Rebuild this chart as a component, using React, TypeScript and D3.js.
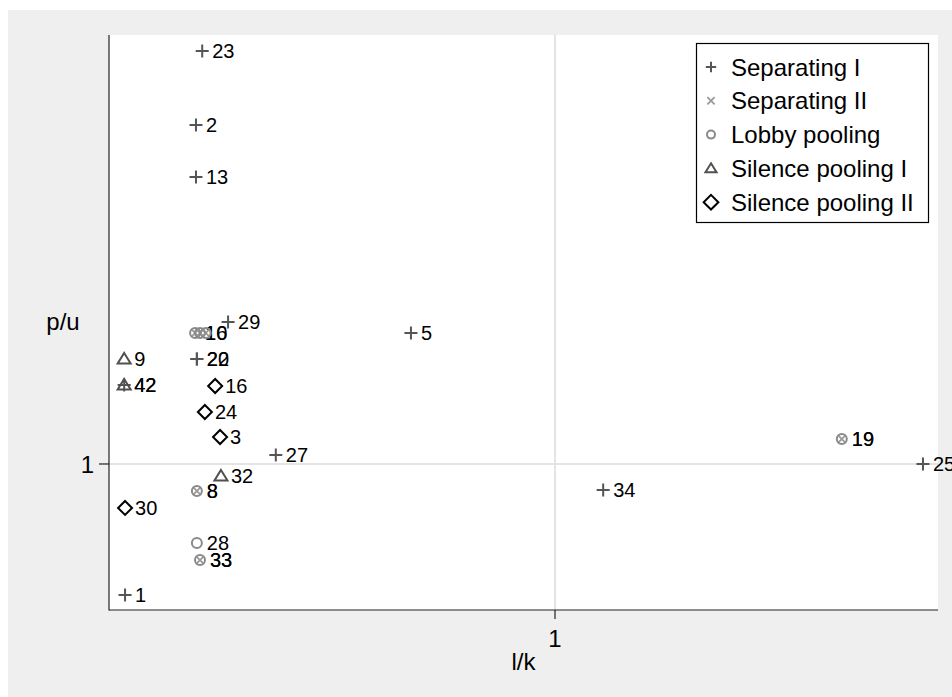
import React from "react";
import * as d3 from "d3";

// ---- data (l/k on x, p/u on y) ----
const sepIX = [0.209, 0.195, 0.195, 0.267, 0.677, 0.197, 0.197, 0.034, 0.374, 1.825, 1.108, 0.036];
const sepIY = [3.829, 3.322, 2.966, 1.973, 1.897, 1.719, 1.719, 1.541, 1.062, 1.0, 0.822, 0.103];
const sepILabels = ["23", "2", "13", "29", "5", "20", "22", "42", "27", "25", "34", "1"];

const sepIIX = [0.193, 0.204, 0.217, 1.643, 0.197, 0.204];
const sepIIY = [1.897, 1.897, 1.897, 1.171, 0.815, 0.342];
const sepIILabels = ["10", "", "", "19", "8", "33"];

const lobbyX = [0.193, 0.204, 0.217, 1.643, 0.197, 0.197, 0.204];
const lobbyY = [1.897, 1.897, 1.897, 1.171, 0.815, 0.459, 0.342];
const lobbyLabels = ["16", "", "", "19", "8", "28", "33"];

const silIX = [0.034, 0.034, 0.251];
const silIY = [1.719, 1.541, 0.918];
const silILabels = ["9", "42", "32"];

const silIIX = [0.238, 0.215, 0.249, 0.036];
const silIIY = [1.534, 1.356, 1.185, 0.699];
const silIILabels = ["16", "24", "3", "30"];

const legendLabels = ["Separating I", "Separating II", "Lobby pooling", "Silence pooling I", "Silence pooling II"];
const xTicks = [1];
const yTicks = [1];
const xTitle = "l/k";
const yTitle = "p/u";

const FONT = "'Liberation Sans', Arial, sans-serif";

type Kind = "plus" | "cross" | "circle" | "tri" | "diamond";

function Marker({ kind, x, y, s = 1 }: { kind: Kind; x: number; y: number; s?: number }) {
  const t = `translate(${x},${y})`;
  if (kind === "plus") {
    const h = 6.5 * s;
    return <path transform={t} d={`M${-h},0H${h}M0,${-h}V${h}`} stroke="#555" strokeWidth={2} fill="none" />;
  }
  if (kind === "cross") {
    const h = 3.8 * s;
    return <path transform={t} d={`M${-h},${-h}L${h},${h}M${-h},${h}L${h},${-h}`} stroke="#9a9a9a" strokeWidth={1.8} fill="none" />;
  }
  if (kind === "circle") {
    return <circle transform={t} r={5 * s} stroke="#8a8a8a" strokeWidth={2} fill="none" />;
  }
  if (kind === "tri") {
    return (
      <path
        transform={t}
        d={`M0,${-6 * s}L${6.5 * s},${4.5 * s}L${-6.5 * s},${4.5 * s}Z`}
        stroke="#505050"
        strokeWidth={2}
        fill="none"
        strokeLinejoin="miter"
      />
    );
  }
  const h = 7 * s;
  return <path transform={t} d={`M0,${-h}L${h},0L0,${h}L${-h},0Z`} stroke="#000" strokeWidth={2} fill="none" />;
}

export default function App() {
  const left = 109,
    right = 938,
    top = 35,
    bottom = 610;
  const x = d3.scaleLinear().domain([0, 1.8587]).range([left, right]);
  const y = d3.scaleLinear().domain([0, 3.938]).range([bottom, top]);

  const series: { kind: Kind; xs: number[]; ys: number[]; labels: string[] }[] = [
    { kind: "plus", xs: sepIX, ys: sepIY, labels: sepILabels },
    { kind: "cross", xs: sepIIX, ys: sepIIY, labels: sepIILabels },
    { kind: "circle", xs: lobbyX, ys: lobbyY, labels: lobbyLabels },
    { kind: "tri", xs: silIX, ys: silIY, labels: silILabels },
    { kind: "diamond", xs: silIIX, ys: silIIY, labels: silIILabels },
  ];
  const legendKinds: Kind[] = ["plus", "cross", "circle", "tri", "diamond"];
  const legendScale = [0.8, 0.95, 0.8, 0.85, 1.05];
  const off = 10;

  return (
    <svg
      width={952}
      height={697}
      style={{ position: "absolute", left: 0, top: 0, display: "block" }}
      fontFamily={FONT}
    >
      <rect x={8} y={10} width={944} height={687} fill="#efefef" />
      <rect x={left} y={top} width={right - left} height={bottom - top} fill="#fff" />
      {/* grid lines */}
      {xTicks.map((t) => (
        <line key={"gx" + t} x1={x(t)} x2={x(t)} y1={top} y2={bottom} stroke="#e4e4e4" strokeWidth={2} />
      ))}
      {yTicks.map((t) => (
        <line key={"gy" + t} x1={left} x2={right} y1={y(t)} y2={y(t)} stroke="#e4e4e4" strokeWidth={2} />
      ))}
      {/* axes */}
      <line x1={left} x2={left} y1={top} y2={bottom + 0.5} stroke="#222" strokeWidth={1.2} />
      <line x1={left} x2={right} y1={bottom} y2={bottom} stroke="#222" strokeWidth={1.2} />
      {xTicks.map((t) => (
        <g key={"xt" + t}>
          <line x1={x(t)} x2={x(t)} y1={bottom} y2={bottom + 9} stroke="#222" strokeWidth={1.2} />
          <text x={x(t)} y={647} fontSize={24} textAnchor="middle" fill="#000">
            {t}
          </text>
        </g>
      ))}
      {yTicks.map((t) => (
        <g key={"yt" + t}>
          <line x1={left - 10} x2={left} y1={y(t)} y2={y(t)} stroke="#222" strokeWidth={1.2} />
          <text x={94} y={y(t) + 9} fontSize={24} textAnchor="end" fill="#000">
            {t}
          </text>
        </g>
      ))}
      <text x={(left + right) / 2} y={670} fontSize={24} textAnchor="middle" fill="#000">
        {xTitle}
      </text>
      <text x={63} y={330} fontSize={24} textAnchor="middle" fill="#000">
        {yTitle}
      </text>
      {/* points */}
      {series.map((s, si) => (
        <g key={"s" + si}>
          {s.xs.map((v, i) => (
            <g key={i}>
              <Marker kind={s.kind} x={x(v)} y={y(s.ys[i])} />
              {s.labels[i] ? (
                <text x={x(v) + off} y={y(s.ys[i]) + 7} fontSize={20} fill="#000">
                  {s.labels[i]}
                </text>
              ) : null}
            </g>
          ))}
        </g>
      ))}
      {/* legend */}
      <rect x={696.5} y={43.5} width={232} height={179} fill="#fff" stroke="#000" strokeWidth={1.2} />
      {legendLabels.map((l, i) => {
        const cy = 67 + i * 33.8;
        return (
          <g key={l}>
            <Marker kind={legendKinds[i]} x={711} y={cy} s={legendScale[i]} />
            <text x={731} y={cy + 8.5} fontSize={24} fill="#000">
              {l}
            </text>
          </g>
        );
      })}
    </svg>
  );
}
